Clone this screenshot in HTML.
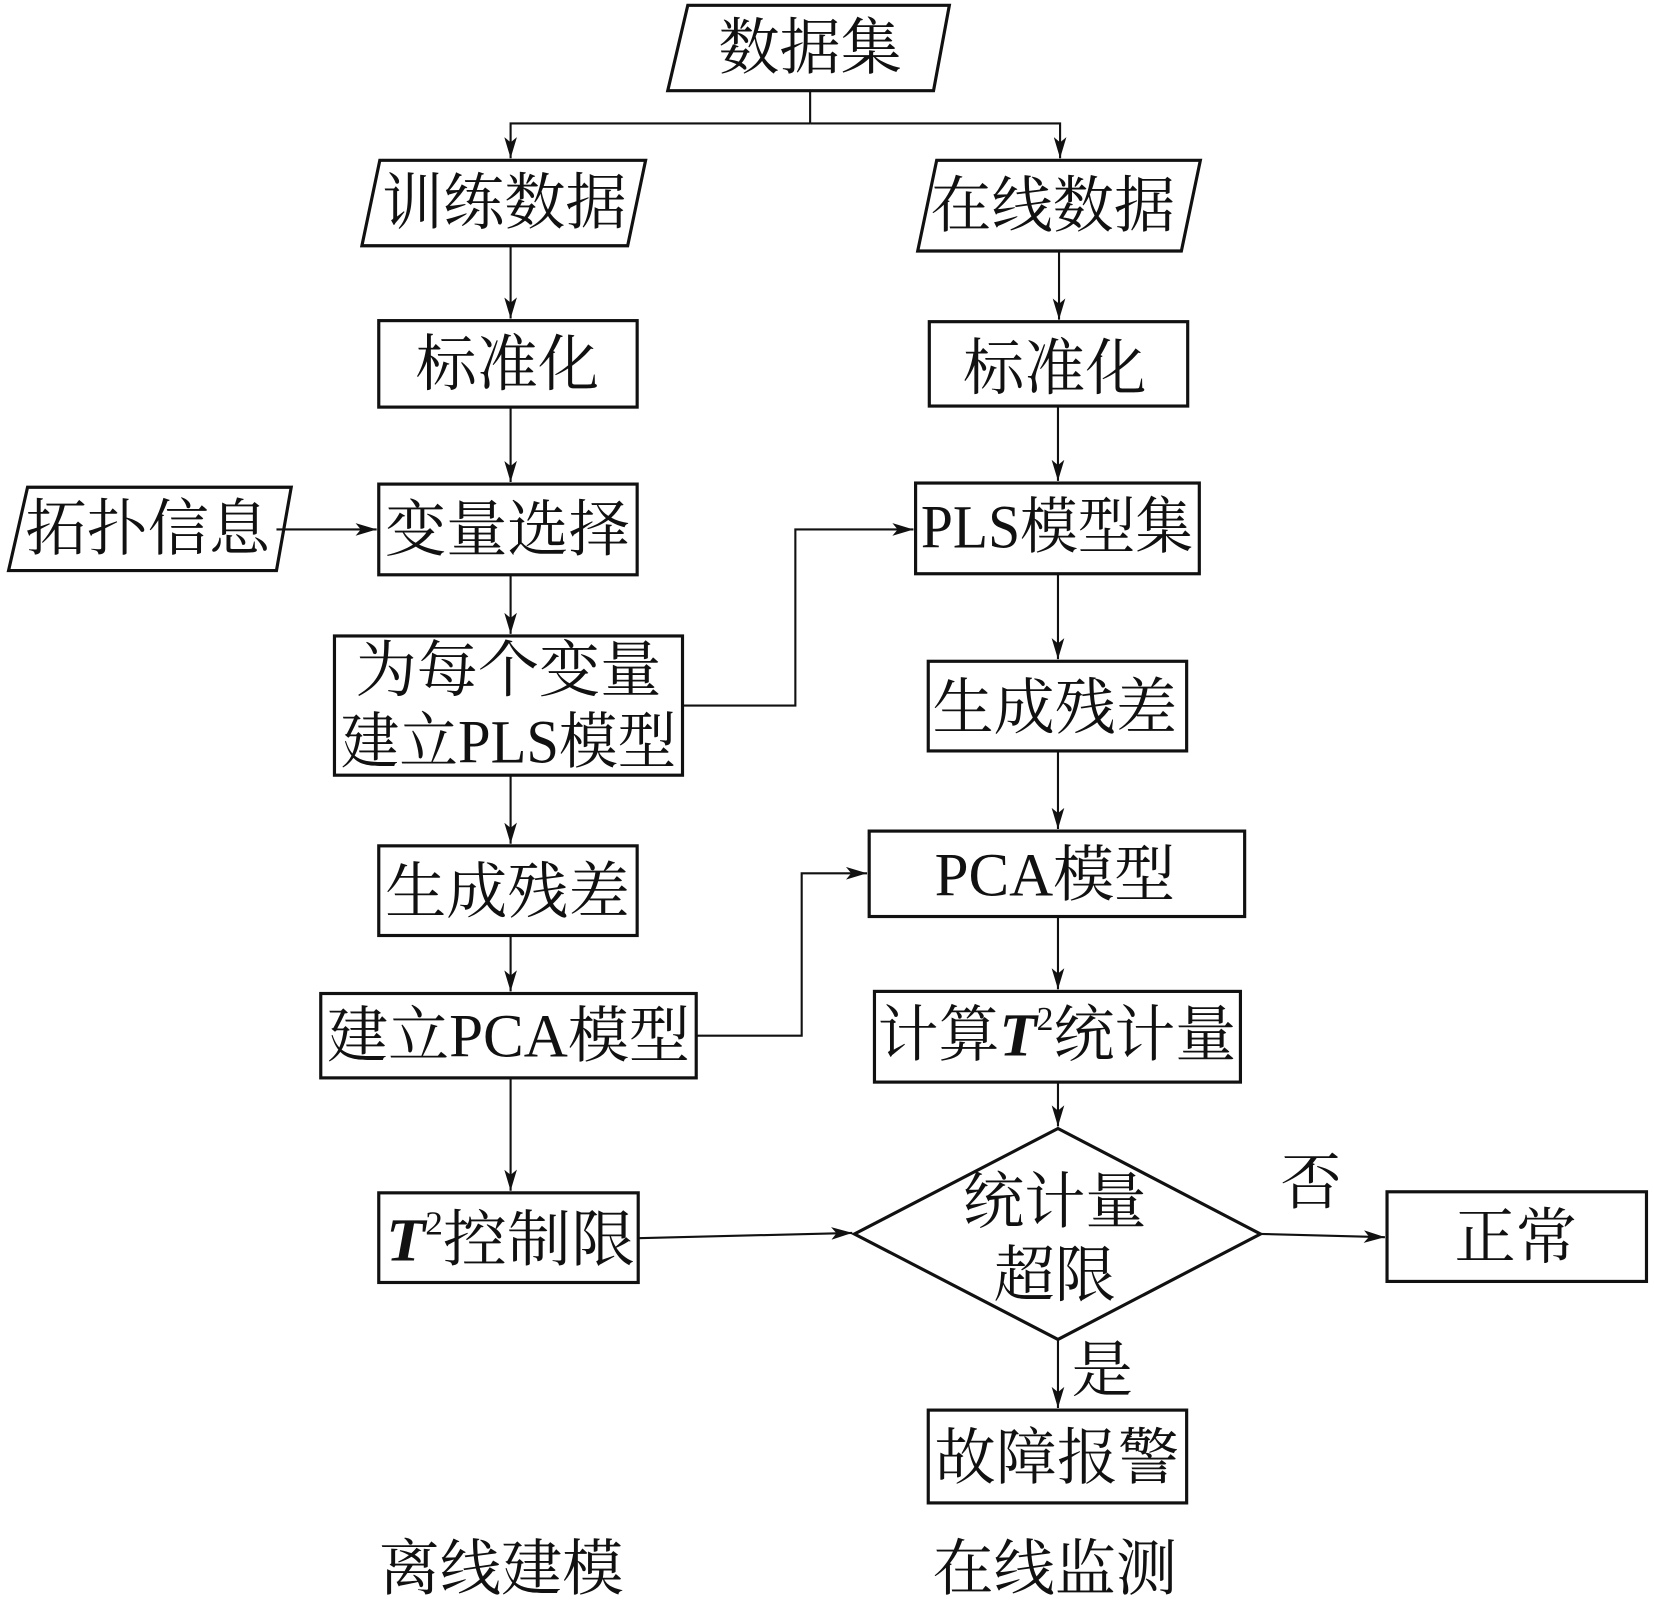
<!DOCTYPE html>
<html><head><meta charset="utf-8"><style>
html,body{margin:0;padding:0;background:#fff;}
svg{display:block;}
text{font-family:"Liberation Serif","Noto Serif CJK SC",serif;fill:#111;text-anchor:middle;dominant-baseline:central;font-size:58px;}
</style></head><body>
<svg width="1654" height="1601" viewBox="0 0 1568 1518" xmlns="http://www.w3.org/2000/svg">
<defs>
<marker id="a" viewBox="0 0 20 12" refX="20" refY="6" markerWidth="20" markerHeight="12" markerUnits="userSpaceOnUse" orient="auto">
<path d="M0,0 L20,6 L0,12 L5,6 Z" fill="#111"/>
</marker>
</defs>
<g fill="none" stroke="#111" stroke-width="3">
<polygon points="652,5 900,5 885,86 633,86"/>
<polygon points="360,152 612,152 595,233 343,233"/>
<polygon points="888,152 1138,152 1120,238 870,238"/>
<polygon points="26,462 276,462 262,541 8,541"/>
<rect x="359" y="304" width="245" height="82"/>
<rect x="881" y="305" width="245" height="80"/>
<rect x="359" y="459" width="245" height="86"/>
<rect x="868" y="458" width="269" height="86"/>
<rect x="317" y="603" width="330" height="132"/>
<rect x="359" y="802" width="245" height="85"/>
<rect x="880" y="627" width="245" height="85"/>
<rect x="304" y="942" width="356" height="80"/>
<rect x="824" y="788" width="356" height="81"/>
<rect x="829" y="940" width="347" height="86"/>
<polygon points="1003,1070 1195,1170 1003,1270 810,1170"/>
<rect x="359" y="1131" width="246" height="85"/>
<rect x="1315" y="1130" width="246" height="85"/>
<rect x="880" y="1337" width="245" height="88"/>
</g>
<g fill="none" stroke="#111" stroke-width="2">
<polyline points="768,86 768,117"/>
<polyline points="768,117 484,117 484,150" marker-end="url(#a)"/>
<polyline points="768,117 1005,117 1005,150" marker-end="url(#a)"/>
<line x1="484" y1="233" x2="484" y2="302" marker-end="url(#a)"/>
<line x1="1004" y1="238" x2="1004" y2="303" marker-end="url(#a)"/>
<line x1="484" y1="386" x2="484" y2="457" marker-end="url(#a)"/>
<line x1="1003" y1="385" x2="1003" y2="456" marker-end="url(#a)"/>
<line x1="262" y1="502" x2="357" y2="502" marker-end="url(#a)"/>
<polyline points="647,669 754,669 754,502 866,502" marker-end="url(#a)"/>
<line x1="484" y1="545" x2="484" y2="601" marker-end="url(#a)"/>
<line x1="484" y1="735" x2="484" y2="800" marker-end="url(#a)"/>
<line x1="484" y1="887" x2="484" y2="940" marker-end="url(#a)"/>
<line x1="1003" y1="544" x2="1003" y2="625" marker-end="url(#a)"/>
<line x1="1003" y1="712" x2="1003" y2="786" marker-end="url(#a)"/>
<polyline points="660,982 760,982 760,828 822,828" marker-end="url(#a)"/>
<line x1="1003" y1="869" x2="1003" y2="938" marker-end="url(#a)"/>
<line x1="1003" y1="1026" x2="1003" y2="1068" marker-end="url(#a)"/>
<line x1="484" y1="1022" x2="484" y2="1129" marker-end="url(#a)"/>
<line x1="605" y1="1174" x2="808" y2="1169" marker-end="url(#a)"/>
<line x1="1195" y1="1170" x2="1313" y2="1173" marker-end="url(#a)"/>
<line x1="1003" y1="1270" x2="1003" y2="1335" marker-end="url(#a)"/>
</g>
<text x="768" y="46">数据集</text>
<text x="478" y="193">训练数据</text>
<text x="998" y="196">在线数据</text>
<text x="140" y="502">拓扑信息</text>
<text x="481" y="346">标准化</text>
<text x="1000" y="350">标准化</text>
<text x="481" y="503">变量选择</text>
<text x="1002" y="500" textLength="258" lengthAdjust="spacingAndGlyphs">PLS模型集</text>
<text x="482" y="636">为每个变量</text>
<text x="482" y="704" textLength="318" lengthAdjust="spacingAndGlyphs">建立PLS模型</text>
<text x="481" y="846">生成残差</text>
<text x="1000" y="672">生成残差</text>
<text x="482" y="983" textLength="344" lengthAdjust="spacingAndGlyphs">建立PCA模型</text>
<text x="1000" y="830" textLength="228" lengthAdjust="spacingAndGlyphs">PCA模型</text>
<text x="1002" y="982" textLength="340" lengthAdjust="spacingAndGlyphs">计算<tspan font-style="italic" font-weight="bold">T</tspan><tspan font-size="32" dy="-16">2</tspan><tspan dy="16">统计量</tspan></text>
<text x="484" y="1176" textLength="236" lengthAdjust="spacingAndGlyphs"><tspan font-style="italic" font-weight="bold">T</tspan><tspan font-size="32" dy="-16">2</tspan><tspan dy="16">控制限</tspan></text>
<text x="1000" y="1140">统计量</text>
<text x="1000" y="1210">超限</text>
<text x="1243" y="1122">否</text>
<text x="1437" y="1174">正常</text>
<text x="1045" y="1300">是</text>
<text x="1002" y="1383">故障报警</text>
<text x="475" y="1488">离线建模</text>
<text x="1000" y="1488">在线监测</text>
</svg>
</body></html>
